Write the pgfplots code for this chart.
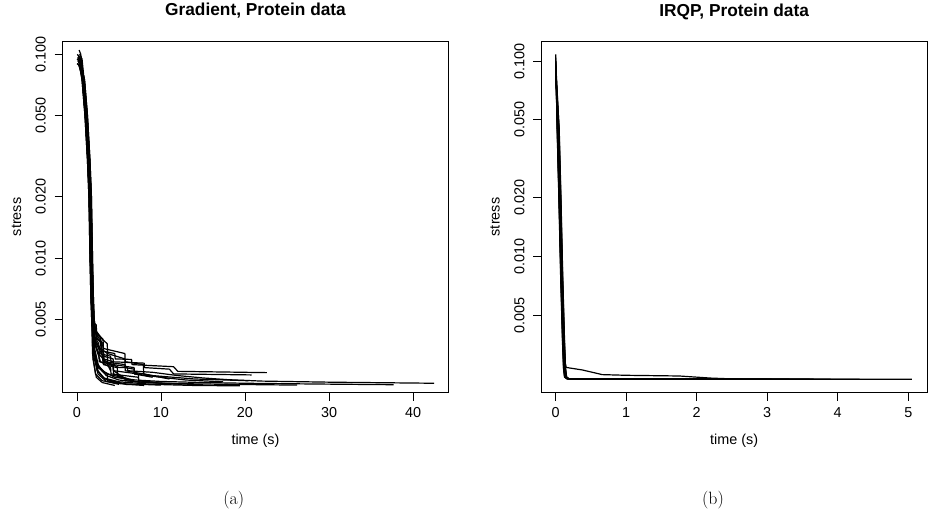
\documentclass[border=0pt]{standalone}
\usepackage{fontspec}
\setsansfont{Liberation Sans}
\usepackage{pgfplots}
\pgfplotsset{compat=1.18}
\begin{document}
\begin{tikzpicture}
\useasboundingbox (0,0) rectangle (932pt,510pt);
\begin{axis}[at={(62.7pt,117.3pt)}, anchor=south west,
  width=385.6pt, height=351.7pt,
  scale only axis, ymode=log, clip=true,
  axis line style={black, line width=0.9pt},
  tick align=outside, xtick pos=bottom, ytick pos=left,
  major tick length=8pt, yminorticks=false, xminorticks=false,
  tick style={black, line width=0.9pt},
  /pgf/number format/assume math mode=true,
  tick label style={font=\sffamily\fontsize{14.4}{16}\selectfont, inner sep=0pt},
  yticklabel style={rotate=90, anchor=south},
  xticklabel style={anchor=north},
  xticklabel shift=6.6pt, yticklabel shift=8.7pt,
  ytick={0.005,0.01,0.02,0.05,0.1},
  yticklabels={0.005,0.010,0.020,0.050,0.100},
  label style={font=\sffamily\fontsize{14.4}{16}\selectfont, inner sep=0pt},
  xlabel style={at={(axis description cs:0.5,-0.1487)}, anchor=base},
  ylabel style={at={(axis description cs:-0.1081,0.5)}, anchor=base},
  title style={at={(axis description cs:0.5,1.0549)}, anchor=base, inner sep=0pt,
     font=\sffamily\bfseries\fontsize{17.3}{20}\selectfont},
  xlabel={time (s)}, ylabel={stress},
  cycle list={{black,solid,no marks}},
  every axis plot post/.append style={line width=1.2pt, line join=round},
  xmin=-1.7, xmax=44.2, ymin=0.002184, ymax=0.1162,
  xtick={0,10,20,30,40}, xticklabels={0,10,20,30,40},
  title={Gradient, Protein data}]
\addplot coordinates {(0.2,0.098)(0.4,0.095)(0.7,0.075)(1.05,0.05)(1.35,0.03)(1.52,0.02)(1.65,0.01)(1.75,0.0065)(1.85,0.005)(2.0,0.0040)(2.5,0.0034)(3.5,0.0031)(5,0.0029)(6,0.0029)(6.05,0.0028)(9,0.00275)(12,0.00265)(15,0.00258)(18,0.00253)(22,0.00249)(30,0.00246)(42.5,0.00243)};
\addplot coordinates {(0.1,0.093)(0.3,0.09)(0.6,0.075)(0.95,0.05)(1.25,0.03)(1.42,0.02)(1.55,0.01)(1.65,0.0065)(1.75,0.005)(1.9,0.0038)(2.3,0.0031)(3,0.0028)(4.5,0.0026)(7,0.00252)(10,0.00248)(15,0.00245)(20,0.00243)(28,0.00241)(37.7,0.00239)};
\addplot coordinates {(0.3,0.1)(0.5,0.097)(0.8,0.075)(1.15,0.05)(1.45,0.03)(1.62,0.02)(1.75,0.01)(1.85,0.0065)(1.95,0.005)(2.1,0.0036)(2.6,0.0029)(3.5,0.00265)(5,0.00252)(8,0.00245)(12,0.00242)(18,0.0024)(26.2,0.00238)};
\addplot coordinates {(0.25,0.105)(0.45,0.1)(0.75,0.075)(1.1,0.05)(1.4,0.03)(1.57,0.02)(1.7,0.01)(1.8,0.0065)(1.9,0.0052)(2.0,0.0048)(2.3,0.0047)(2.35,0.0040)(2.9,0.0039)(2.95,0.0035)(4.5,0.0034)(4.55,0.0032)(6.5,0.00318)(6.55,0.0030)(11.5,0.00293)(12,0.00278)(22.6,0.00274)};
\addplot coordinates {(0.15,0.096)(0.35,0.093)(0.65,0.075)(1.0,0.05)(1.3,0.03)(1.47,0.02)(1.6,0.01)(1.7,0.0065)(1.8,0.005)(1.95,0.0042)(2.6,0.0038)(2.65,0.0034)(4,0.0033)(4.05,0.0031)(8,0.00305)(8.05,0.0029)(11,0.00285)(11.5,0.0027)(20.8,0.00267)};
\addplot coordinates {(0.35,0.092)(0.55,0.09)(0.85,0.075)(1.2,0.05)(1.5,0.03)(1.67,0.02)(1.8,0.01)(1.9,0.0065)(2.0,0.005)(2.2,0.0039)(3.2,0.0034)(3.25,0.0031)(5.7,0.003)(5.75,0.0028)(9,0.00265)(14,0.00255)(20.4,0.0025)};
\addplot coordinates {(0.05,0.09)(0.25,0.088)(0.7,0.075)(1.05,0.05)(1.35,0.03)(1.52,0.02)(1.65,0.01)(1.75,0.0065)(1.85,0.005)(2.0,0.0035)(2.4,0.0028)(3.2,0.00258)(5,0.00247)(9,0.0024)(14,0.00237)(19.4,0.00236)};
\addplot coordinates {(0.2,0.094)(0.4,0.091)(0.9,0.075)(1.25,0.05)(1.55,0.03)(1.72,0.02)(1.85,0.01)(1.95,0.0065)(2.05,0.005)(2.3,0.0041)(3.1,0.0037)(3.15,0.0033)(4.3,0.0032)(4.35,0.003)(6.8,0.0029)(6.85,0.0027)(10,0.0026)(13,0.00252)(17.4,0.00247)};
\addplot coordinates {(0.3,0.088)(0.5,0.086)(0.65,0.075)(1.0,0.05)(1.3,0.03)(1.47,0.02)(1.6,0.01)(1.7,0.0065)(1.8,0.005)(1.95,0.0037)(2.4,0.003)(3.5,0.0027)(5.7,0.00258)(5.75,0.0025)(9,0.00244)(15,0.00239)};
\addplot coordinates {(0.1,0.097)(0.3,0.094)(0.8,0.075)(1.15,0.05)(1.45,0.03)(1.62,0.02)(1.75,0.01)(1.85,0.0065)(1.95,0.005)(2.1,0.004)(2.9,0.0035)(3.1,0.0031)(4.3,0.00295)(4.35,0.0028)(7.3,0.0027)(7.35,0.0025)(10,0.00243)(12.5,0.0024)};
\addplot coordinates {(0.4,0.091)(0.6,0.089)(0.75,0.075)(1.1,0.05)(1.4,0.03)(1.57,0.02)(1.7,0.01)(1.8,0.0065)(1.9,0.005)(2.05,0.0044)(3.1,0.004)(3.15,0.0036)(5.7,0.0034)(5.75,0.0031)(7.9,0.003)(7.95,0.0027)(11,0.00255)};
\addplot coordinates {(0,0.095)(0.2,0.093)(0.6,0.075)(0.95,0.05)(1.25,0.03)(1.42,0.02)(1.55,0.01)(1.65,0.0065)(1.75,0.005)(1.85,0.0034)(2.2,0.0027)(3,0.0025)(5,0.00242)(10,0.00238)};
\addplot coordinates {(0.15,0.099)(0.35,0.096)(0.85,0.075)(1.2,0.05)(1.5,0.03)(1.67,0.02)(1.8,0.01)(1.9,0.0065)(2.0,0.005)(2.15,0.0043)(3.6,0.0038)(3.65,0.0034)(5.7,0.0032)(5.75,0.0029)(6.8,0.00285)(6.85,0.0027)(9,0.0026)};
\addplot coordinates {(0.35,0.093)(0.55,0.091)(0.7,0.075)(1.05,0.05)(1.35,0.03)(1.52,0.02)(1.65,0.01)(1.75,0.0065)(1.85,0.005)(2.0,0.0036)(2.5,0.0029)(3.6,0.0027)(3.65,0.0025)(6,0.0024)(8,0.00237)};
\addplot coordinates {(0.25,0.089)(0.45,0.088)(0.8,0.075)(1.15,0.05)(1.45,0.03)(1.62,0.02)(1.75,0.01)(1.85,0.0065)(1.95,0.005)(2.1,0.0039)(3.1,0.0033)(3.15,0.003)(4.8,0.0029)(4.85,0.0026)(7.5,0.00245)};
\addplot coordinates {(0.05,0.1)(0.25,0.097)(0.65,0.075)(1.0,0.05)(1.3,0.03)(1.47,0.02)(1.6,0.01)(1.7,0.0065)(1.8,0.005)(1.95,0.004)(2.6,0.0034)(2.65,0.0031)(4.3,0.003)(4.35,0.0027)(6.8,0.0025)};
\addplot coordinates {(0.2,0.092)(0.4,0.09)(0.75,0.075)(1.1,0.05)(1.4,0.03)(1.57,0.02)(1.7,0.01)(1.8,0.0065)(1.9,0.005)(2.05,0.0035)(2.5,0.0028)(3.3,0.00255)(6,0.00239)};
\addplot coordinates {(0.1,0.096)(0.3,0.094)(0.9,0.075)(1.25,0.05)(1.55,0.03)(1.72,0.02)(1.85,0.01)(1.95,0.0065)(2.05,0.005)(2.3,0.0042)(3.1,0.0038)(3.15,0.0032)(4.3,0.0031)(4.35,0.0028)(5.5,0.0026)};
\addplot coordinates {(0.3,0.095)(0.5,0.092)(0.7,0.075)(1.05,0.05)(1.35,0.03)(1.52,0.02)(1.65,0.01)(1.75,0.0065)(1.85,0.005)(2.0,0.0033)(2.5,0.0027)(3.5,0.00248)(5,0.0024)};
\addplot coordinates {(0.4,0.094)(0.6,0.092)(0.65,0.075)(1.0,0.05)(1.3,0.03)(1.47,0.02)(1.6,0.01)(1.7,0.0065)(1.8,0.005)(1.9,0.0032)(2.3,0.0026)(3,0.00245)(4.5,0.00237)};
\addplot coordinates {(0,0.09)(0.2,0.089)(0.8,0.075)(1.15,0.05)(1.45,0.03)(1.62,0.02)(1.75,0.01)(1.85,0.0065)(1.95,0.005)(2.1,0.0045)(2.8,0.0041)(2.85,0.0036)(3.6,0.0034)(3.65,0.003)(4,0.0028)};
\addplot coordinates {(0.45,0.097)(0.6,0.095)(0.85,0.075)(1.2,0.05)(1.5,0.03)(1.67,0.02)(1.8,0.01)(1.9,0.0065)(2.0,0.005)(2.2,0.0037)(2.8,0.0031)(4,0.0029)(4.05,0.0027)(7.3,0.0026)(7.35,0.0025)(9.5,0.00245)};
\end{axis}
\begin{axis}[at={(541.3pt,117.3pt)}, anchor=south west,
  width=385.7pt, height=351.4pt,
  scale only axis, ymode=log, clip=true,
  axis line style={black, line width=0.9pt},
  tick align=outside, xtick pos=bottom, ytick pos=left,
  major tick length=8pt, yminorticks=false, xminorticks=false,
  tick style={black, line width=0.9pt},
  /pgf/number format/assume math mode=true,
  tick label style={font=\sffamily\fontsize{14.4}{16}\selectfont, inner sep=0pt},
  yticklabel style={rotate=90, anchor=south},
  xticklabel style={anchor=north},
  xticklabel shift=6.6pt, yticklabel shift=8.7pt,
  ytick={0.005,0.01,0.02,0.05,0.1},
  yticklabels={0.005,0.010,0.020,0.050,0.100},
  label style={font=\sffamily\fontsize{14.4}{16}\selectfont, inner sep=0pt},
  xlabel style={at={(axis description cs:0.5,-0.1488)}, anchor=base},
  ylabel style={at={(axis description cs:-0.1081,0.5)}, anchor=base},
  title style={at={(axis description cs:0.5,1.0549)}, anchor=base, inner sep=0pt,
     font=\sffamily\bfseries\fontsize{17.3}{20}\selectfont},
  xlabel={time (s)}, ylabel={stress},
  cycle list={{black,solid,no marks}},
  every axis plot post/.append style={line width=1.2pt, line join=round},
  xmin=-0.204, xmax=5.266, ymin=0.002021, ymax=0.1261,
  xtick={0,1,2,3,4,5}, xticklabels={0,1,2,3,4,5},
  title={IRQP, Protein data}]
\addplot coordinates {(0,0.1)(0.03,0.035)(0.07,0.01)(0.1,0.0045)(0.13,0.0029)(0.15,0.00272)(0.38,0.00264)(0.66,0.0025)(1.0,0.00248)(1.75,0.00246)(2.2,0.0024)(2.6,0.00237)(5.05,0.00237)};
\addplot coordinates {(0,0.108)(0.02,0.045)(0.045,0.02)(0.07,0.008)(0.095,0.0038)(0.11,0.0027)(0.125,0.00243)(0.16,0.00238)(4.31,0.00237)};
\addplot coordinates {(0,0.1)(0.025,0.045)(0.05,0.02)(0.075,0.008)(0.1,0.0038)(0.115,0.0027)(0.13,0.00243)(0.165,0.00238)(3.9,0.00237)};
\addplot coordinates {(0,0.095)(0.03,0.045)(0.055,0.02)(0.08,0.008)(0.105,0.0038)(0.12,0.0027)(0.135,0.00243)(0.17,0.00238)(3.6,0.00237)};
\addplot coordinates {(0,0.09)(0.035,0.045)(0.06,0.02)(0.085,0.008)(0.11,0.0038)(0.125,0.0027)(0.14,0.00243)(0.175,0.00238)(3.0,0.00237)};
\addplot coordinates {(0,0.098)(0.04,0.045)(0.065,0.02)(0.09,0.008)(0.115,0.0038)(0.13,0.0027)(0.145,0.00243)(0.18,0.00238)(2.65,0.00237)};
\addplot coordinates {(0,0.085)(0.045,0.045)(0.07,0.02)(0.095,0.008)(0.12,0.0038)(0.135,0.0027)(0.15,0.00243)(0.185,0.00238)(2.5,0.00237)};
\addplot coordinates {(0,0.092)(0.05,0.045)(0.075,0.02)(0.1,0.008)(0.125,0.0038)(0.14,0.0027)(0.155,0.00243)(0.19,0.00238)(2.3,0.00237)};
\addplot coordinates {(0,0.104)(0.022,0.045)(0.047,0.02)(0.072,0.008)(0.097,0.0038)(0.112,0.0027)(0.127,0.00243)(0.16,0.00238)(2.0,0.00237)};
\addplot coordinates {(0,0.088)(0.032,0.045)(0.057,0.02)(0.082,0.008)(0.107,0.0038)(0.122,0.0027)(0.137,0.00243)(0.17,0.00238)(1.7,0.00237)};
\addplot coordinates {(0,0.096)(0.038,0.045)(0.063,0.02)(0.088,0.008)(0.113,0.0038)(0.128,0.0027)(0.143,0.00243)(0.18,0.00238)(1.4,0.00237)};
\addplot coordinates {(0,0.093)(0.028,0.045)(0.053,0.02)(0.078,0.008)(0.103,0.0038)(0.118,0.0027)(0.133,0.00243)(0.17,0.00238)(1.1,0.00237)};
\addplot coordinates {(0,0.087)(0.042,0.045)(0.067,0.02)(0.092,0.008)(0.117,0.0038)(0.132,0.0027)(0.147,0.00243)(0.18,0.00238)(0.8,0.00237)};
\addplot coordinates {(0,0.099)(0.048,0.045)(0.073,0.02)(0.098,0.008)(0.123,0.0038)(0.138,0.0027)(0.153,0.00243)(0.19,0.00238)(0.6,0.00237)};
\end{axis}
\node[anchor=base, font=\rmfamily\fontsize{17.8}{20}\selectfont, inner sep=0pt] at (233.7pt,5pt) {(a)};
\node[anchor=base, font=\rmfamily\fontsize{17.8}{20}\selectfont, inner sep=0pt] at (713pt,5pt) {(b)};
\end{tikzpicture}
\end{document}
